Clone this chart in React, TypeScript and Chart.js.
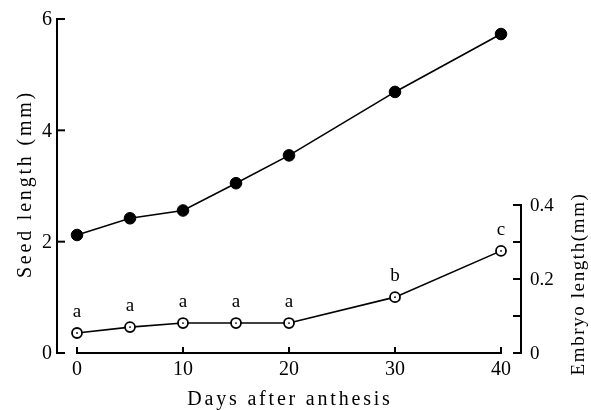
import React, { useEffect, useRef } from 'react';
import { Chart, registerables } from 'chart.js';

Chart.register(...registerables);

const days = [0, 5, 10, 15, 20, 30, 40];
const seedLength = [2.12, 2.42, 2.56, 3.05, 3.55, 4.69, 5.73];
const embryoLength = [0.054, 0.07, 0.081, 0.081, 0.081, 0.151, 0.276];
const embryoLetters = ['a', 'a', 'a', 'a', 'a', 'b', 'c'];
const xTicks = [0, 10, 20, 30, 40];
const seedTicks = [0, 2, 4, 6];
const seedTickLabels = ['0', '2', '4', '6'];
const embryoTicks = [0, 0.1, 0.2, 0.3, 0.4];
const embryoTickLabels = ['0', '', '0.2', '', '0.4'];
const xTitle = 'Days after anthesis';
const yTitle = 'Seed length (mm)';
const y1Title = 'Embryo length(mm)';

const FONT = '"Liberation Serif", "DejaVu Serif", serif';

const axesPlugin = {
  id: 'customAxes',
  beforeDatasetsDraw(chart: any) {
    const ctx = chart.ctx;
    const { x, y, y1 } = chart.scales;
    const area = chart.chartArea;
    ctx.save();
    ctx.strokeStyle = '#000';
    ctx.fillStyle = '#000';
    ctx.lineWidth = 2;
    const seg = (a: number, b: number, c: number, d: number) => {
      ctx.beginPath();
      ctx.moveTo(a, b);
      ctx.lineTo(c, d);
      ctx.stroke();
    };
    // left axis
    const lx = area.left;
    seg(lx, y.getPixelForValue(seedTicks[seedTicks.length - 1]) - 1, lx, y.getPixelForValue(0) + 1);
    ctx.font = '20px ' + FONT;
    ctx.textAlign = 'right';
    ctx.textBaseline = 'middle';
    seedTicks.forEach((v, i) => {
      const py = y.getPixelForValue(v);
      seg(lx, py, lx + 8, py);
      ctx.fillText(seedTickLabels[i], lx - 5, py + 1);
    });
    // x axis
    const by = y.getPixelForValue(0);
    seg(x.getPixelForValue(xTicks[0]) - 1, by, x.getPixelForValue(xTicks[xTicks.length - 1]) + 1, by);
    ctx.textAlign = 'center';
    xTicks.forEach((v) => {
      const px = x.getPixelForValue(v);
      seg(px, by, px, by - 6);
      ctx.fillText(String(v), px, by + 17);
    });
    // right axis
    const rx = area.right;
    seg(rx, y1.getPixelForValue(0.4) - 1, rx, y1.getPixelForValue(0) + 1);
    ctx.textAlign = 'left';
    ctx.font = '19px ' + FONT;
    embryoTicks.forEach((v, i) => {
      const py = y1.getPixelForValue(v);
      seg(rx - 8, py, rx, py);
      if (embryoTickLabels[i]) ctx.fillText(embryoTickLabels[i], rx + 9, py + 1);
    });
    // titles
    ctx.font = '20px ' + FONT;
    (ctx as any).letterSpacing = '2.8px';
    ctx.textAlign = 'center';
    ctx.textBaseline = 'alphabetic';
    ctx.fillText(xTitle, (x.getPixelForValue(0) + x.getPixelForValue(40)) / 2 + 1, by + 52);
    ctx.save();
    ctx.translate(31, (area.top + area.bottom) / 2 - 2);
    ctx.rotate(-Math.PI / 2);
    ctx.fillText(yTitle, 0, 0);
    ctx.restore();
    ctx.save();
    (ctx as any).letterSpacing = '1.6px';
    ctx.font = '19px ' + FONT;
    ctx.translate(584, 284);
    ctx.rotate(-Math.PI / 2);
    ctx.fillText(y1Title, 0, 0);
    ctx.restore();
    ctx.restore();
  },
  afterDatasetsDraw(chart: any) {
    const ctx = chart.ctx;
    const meta = chart.getDatasetMeta(1);
    ctx.save();
    ctx.fillStyle = '#000';
    ctx.font = '19px ' + FONT;
    ctx.textAlign = 'center';
    ctx.textBaseline = 'middle';
    meta.data.forEach((pt: any, i: number) => {
      ctx.beginPath();
      ctx.arc(pt.x, pt.y, 0.9, 0, Math.PI * 2);
      ctx.fill();
      ctx.fillText(embryoLetters[i], pt.x, pt.y - 21);
    });
    ctx.restore();
  },
};

export default function App() {
  const ref = useRef<HTMLCanvasElement>(null);
  useEffect(() => {
    if (!ref.current) return;
    const chart = new Chart(ref.current, {
      type: 'line',
      data: {
        datasets: [
          {
            data: days.map((d, i) => ({ x: d, y: seedLength[i] })),
            yAxisID: 'y',
            borderColor: '#000',
            borderWidth: 1.6,
            pointRadius: 5.8,
            pointBackgroundColor: '#000',
            pointBorderColor: '#000',
            pointBorderWidth: 1,
            tension: 0,
          },
          {
            data: days.map((d, i) => ({ x: d, y: embryoLength[i] })),
            yAxisID: 'y1',
            borderColor: '#000',
            borderWidth: 1.6,
            pointRadius: 5,
            pointBackgroundColor: '#fff',
            pointBorderColor: '#000',
            pointBorderWidth: 1.8,
            tension: 0,
          },
        ],
      },
      options: {
        animation: false,
        responsive: false,
        layout: { padding: { left: 57, right: 70, top: 19, bottom: 57 } },
        plugins: { legend: { display: false }, tooltip: { enabled: false } },
        scales: {
          x: { type: 'linear', min: -1.887, max: 41.887, display: false },
          y: { type: 'linear', min: 0, max: 6, display: false },
          y1: { type: 'linear', min: 0, max: 0.9027, display: false, position: 'right' },
        },
      },
      plugins: [axesPlugin],
    });
    return () => chart.destroy();
  }, []);
  return (
    <div style={{ position: 'fixed', left: 0, top: 0, width: 591, height: 410, background: '#fff' }}>
      <canvas ref={ref} width={591} height={410} />
    </div>
  );
}
